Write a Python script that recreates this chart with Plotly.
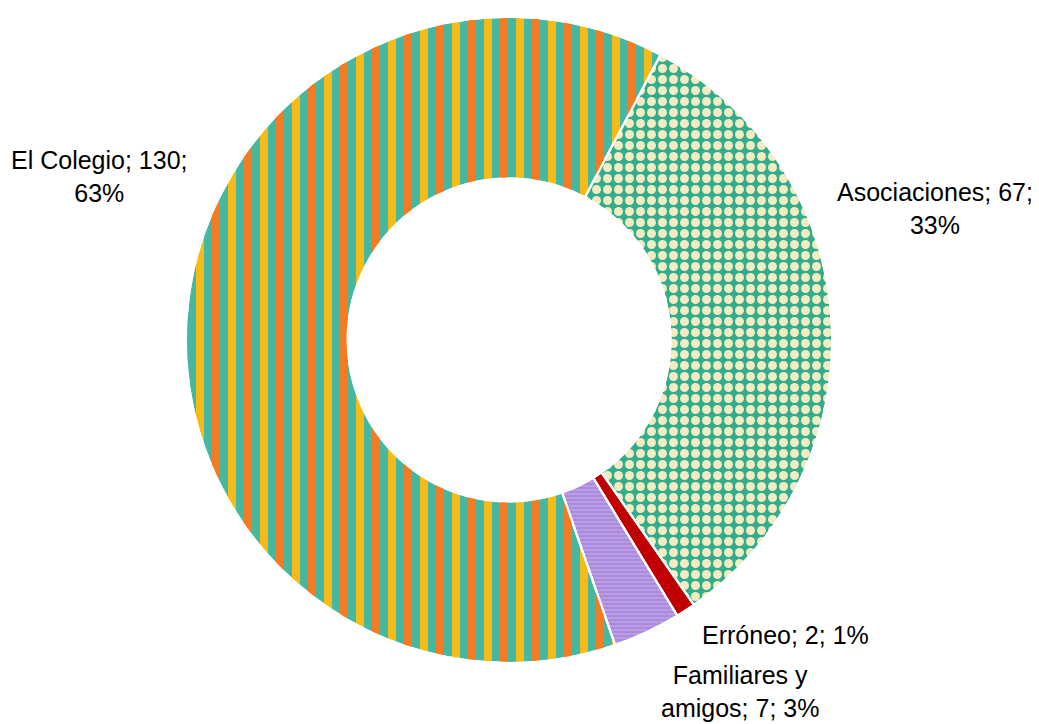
import plotly.graph_objects as go

# Data
categories = ["Asociaciones", "Erróneo", "Familiares y amigos", "El Colegio"]
values = [67, 2, 7, 130]

total = sum(values)
percents = [round(v / total * 100) for v in values]

# Label texts (line breaks as in the reference)
label_texts = [
    f"{categories[0]}; {values[0]};<br>{percents[0]}%",
    f"{categories[1]}; {values[1]}; {percents[1]}%",
    f"Familiares y<br>amigos; {values[2]}; {percents[2]}%",
    f"{categories[3]}; {values[3]};<br>{percents[3]}%",
]

# Styles
TRANSP = "rgba(0,0,0,0)"
base_colors = ["#31AC8D", "#C00000", "#7E9CF0", "#F8BA16"]
base_pattern = dict(
    shape=[".", "", "-", "|"],
    fgcolor=["#F3EBC2", "#C00000", "#E88AD0", "#45B8A2"],
    bgcolor=["#31AC8D", "#C00000", "#7E9CF0", "#F8BA16"],
    size=[11, 8, 4, 16],
    solidity=[0.52, 0.5, 0.5, 0.5],
)
# second layer: extra orange stripes on "El Colegio"
overlay_pattern = dict(
    shape=["", "", "", "|"],
    fgcolor=[TRANSP, TRANSP, TRANSP, "#F47B22"],
    bgcolor=[TRANSP, TRANSP, TRANSP, TRANSP],
    size=[8, 8, 8, 32],
    solidity=[0.5, 0.5, 0.5, 0.25],
)
label_pos = [(0.892, 0.7224), (0.748, 0.134), (0.7045, 0.056), (0.0885, 0.7666)]
pie_domain = dict(x=[0.1704, 0.794], y=[0.0953, 0.9876])

common = dict(
    labels=categories,
    values=values,
    hole=0.5,
    sort=False,
    direction="clockwise",
    rotation=28,
    textinfo="none",
    domain=pie_domain,
    showlegend=False,
)

fig = go.Figure()
fig.add_trace(go.Pie(
    marker=dict(colors=base_colors, line=dict(color="white", width=2),
                pattern=base_pattern),
    **common,
))
fig.add_trace(go.Pie(
    marker=dict(colors=[TRANSP] * 4, line=dict(color="white", width=2),
                pattern=overlay_pattern),
    hoverinfo="skip",
    **common,
))

for txt, (x, y) in zip(label_texts, label_pos):
    fig.add_annotation(
        text=txt, x=x, y=y, xref="paper", yref="paper",
        xanchor="center", yanchor="middle",
        showarrow=False, align="center",
        font=dict(family="Liberation Sans, Arial, sans-serif", size=25, color="#000000"),
    )

fig.update_layout(
    width=1039, height=724,
    margin=dict(l=0, r=0, t=0, b=0),
    paper_bgcolor="white", plot_bgcolor="white",
)

fig.write_html("out.html")
